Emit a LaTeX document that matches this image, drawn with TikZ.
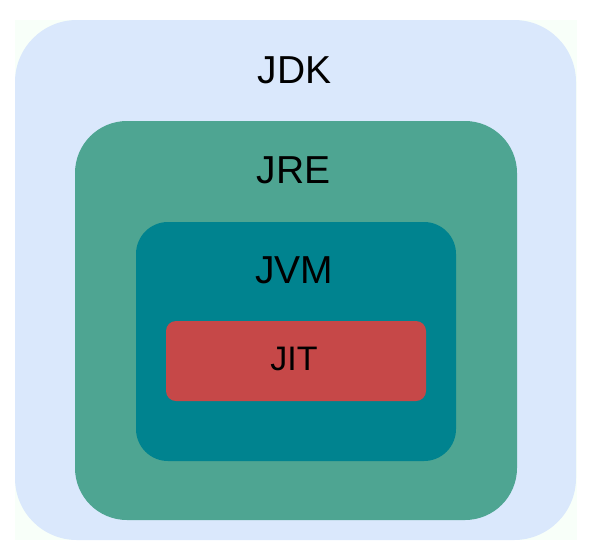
\documentclass[tikz,border=0pt]{standalone}
\usepackage{fontspec}
\setmainfont{Liberation Sans}
\definecolor{jdkblue}{HTML}{DAE8FC}
\definecolor{jregreen}{HTML}{4EA592}
\definecolor{jvmteal}{HTML}{00838F}
\definecolor{jitred}{HTML}{C64848}
\definecolor{paper}{HTML}{F8FFF9}

\begin{document}
\begin{tikzpicture}[x=1pt,y=-1pt,
  lbl/.style={anchor=base,text=black,font=\fontsize{39}{42}\selectfont},
  lblsmall/.style={anchor=base,text=black,font=\fontsize{34}{37}\selectfont}]
  \useasboundingbox (0,0) rectangle (593,544);
  % --- Ebenen ---
  \fill[paper] (15,20) rectangle (577,540);
  \fill[jdkblue,rounded corners=62] (15,20) rectangle (576,540);
  \fill[jregreen,rounded corners=52] (75,121) rectangle (517,520);
  \fill[jvmteal,rounded corners=32] (136,222) rectangle (456,461);
  \fill[jitred,rounded corners=10] (166,321) rectangle (426,401);
  % --- Beschriftung ---
  \node[lbl] (jdk) at (294.5,83) {JDK};
  \node[lbl] (jre) at (293.5,183) {JRE};
  \node[lbl] (jvm) at (294,283) {JVM};
  \node[lblsmall] (jit) at (294,370) {JIT};
\end{tikzpicture}
\end{document}
